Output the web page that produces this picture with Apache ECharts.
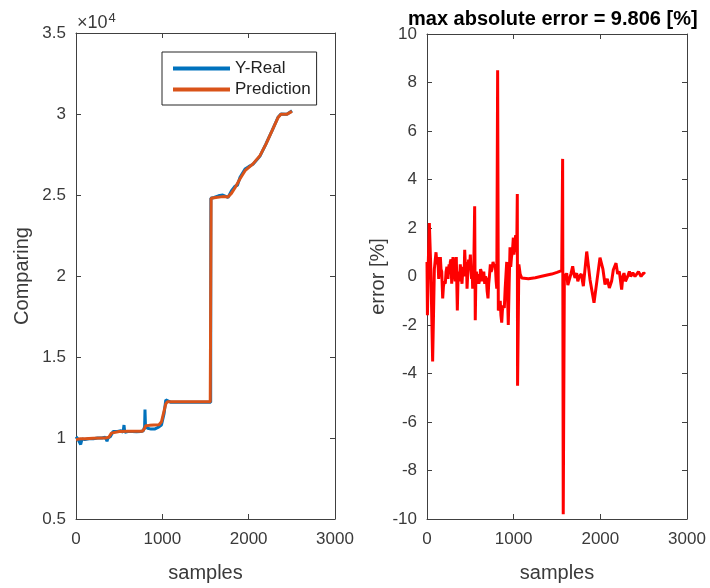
<!DOCTYPE html>
<html>
<head>
<meta charset="utf-8">
<script src="https://cdn.jsdelivr.net/npm/echarts@6/dist/echarts.min.js"></script>
<style>
html,body{margin:0;padding:0;background:#fff;}
#chart{width:710px;height:588px;}
</style>
</head>
<body>
<div id="chart"></div>
<script>
// ---- data ----
const realX = [0,20,40,54,70,100,150,200,250,300,340,359,370,400,430,480,520,545,556,565,600,650,700,750,780,795,799,805,830,870,910,950,990,1020,1040,1060,1100,1300,1560,1562,1600,1650,1700,1760,1800,1842,1870,1900,1958,2000,2050,2100,2131,2200,2270,2340,2374,2444,2502];
const realY = [10080,9950,9900,9600,9950,9900,9950,9950,10000,10000,10050,9800,10000,10100,10400,10400,10450,10350,10800,10350,10400,10400,10380,10400,10450,10700,11750,10700,10600,10550,10550,10650,10800,11500,12350,12250,12200,12200,12200,24800,24850,24950,25000,24850,25250,25550,25600,26100,26600,26750,26900,27200,27400,28150,28960,29800,30000,29980,30200];
const predX = [0,50,100,200,300,344,380,410,420,500,600,700,768,790,807,850,900,961,990,1019,1040,1058,1200,1400,1555,1565,1620,1700,1760,1800,1842,1900,1958,2050,2131,2200,2270,2340,2374,2444,2502];
const predY = [9900,9950,9950,9980,10000,10000,10050,10300,10380,10400,10420,10420,10420,10550,10750,10780,10800,10820,11000,11650,12100,12230,12230,12230,12230,24800,24850,24900,24880,25100,25450,26000,26500,26920,27430,28140,28960,29780,29980,29990,30160];
const errX = [0,5,15,27,45,65,85,104,115,125,135,145,154,162,170,181,190,200,211,220,230,242,250,255,262,269,277,285,292,300,308,316,325,331,338,350,358,365,375,384,394,404,412,420,428,435,442,450,456,462,471,480,490,500,508,515,521,527,533,540,550,557,563,570,579,588,598,610,618,627,636,645,655,666,675,685,694,704,712,720,731,740,750,762,775,788,798,805,815,823,835,845,853,862,870,880,892,902,910,920,930,938,948,958,966,975,985,996,1003,1010,1017,1023,1030,1035,1042,1045,1060,1075,1093,1170,1250,1323,1400,1439,1500,1554,1565,1572,1585,1600,1612,1625,1642,1660,1681,1695,1708,1727,1740,1758,1780,1804,1843,1881,1927,1960,1996,2030,2054,2080,2104,2130,2150,2181,2200,2219,2246,2260,2273,2290,2304,2320,2335,2350,2362,2375,2388,2400,2419,2440,2458,2470,2489,2500,2515];
const errY = [0.6,-1.6,0.6,2.2,0.2,-3.5,0.3,1.0,0.5,0.8,-0.1,0.4,0.8,0.3,0.2,-0.9,-0.4,-0.2,-0.3,0.2,0.4,-0.1,0.3,0.5,0.1,0.6,0.7,-0.3,0.4,0.8,0.8,0.1,-0.2,0.5,0.8,-1.4,-0.1,0.2,-0.2,0.5,0.1,-0.3,0.2,0.4,0.0,1.1,0.5,0.1,0.6,-0.5,0.2,0.7,0.3,0.9,0.2,-0.1,0.3,-0.5,0.1,0.4,2.9,-1.8,-0.3,0.2,-0.2,0.1,-0.3,-0.1,0.3,0.2,-0.2,0.0,0.2,-0.3,0.0,-0.1,-0.6,-0.9,-0.3,0.0,0.5,0.2,0.3,0.6,0.4,0.5,-0.2,-0.5,8.5,-1.4,-1.3,-1.0,-1.6,-1.9,-1.4,-1.2,-1.3,-0.5,0.0,0.6,-0.9,-2.0,-0.3,1.2,0.4,0.8,1.0,1.6,0.9,1.2,1.5,1.7,1.3,1.0,3.4,-4.5,0.5,0.1,-0.06,-0.09,-0.05,0.01,0.07,0.1,0.17,0.24,4.85,-9.806,0.1,0.0,0.14,-0.35,-0.27,0.1,0.42,0.1,-0.06,0.14,-0.2,0.01,0.1,-0.4,1.03,-0.13,-1.08,-0.2,0.78,0.3,-0.33,-0.1,-0.47,-0.2,0.28,0.55,0.1,0.21,-0.54,0.0,0.14,-0.2,-0.13,0.05,0.21,0.0,-0.06,0.15,0.21,0.0,-0.06,0.2,0.18,0.0,0.01,0.15,0.1];
const leftYTicks = [5000,35000,5000];   // min, max, step
const rightYTicks = [-10,10,2];
const xTicks = [0,3000,1000];
const titleText = 'max absolute error = 9.806 [%]';

const zip = (a,b) => a.map((v,i)=>[v,b[i]]);

const FONT = 'Liberation Sans, Arial, Helvetica, sans-serif';
const AX = '#404040';
const LBL = '#3a3a3a';

function xAx(grid, pos, labels){
  return {
    type:'value', gridIndex:grid, position:pos, min:xTicks[0], max:xTicks[1], interval:xTicks[2],
    axisLine:{show:true, onZero:false, lineStyle:{color:AX,width:1}},
    axisTick:{show:true, inside:true, length:5, lineStyle:{color:AX}},
    axisLabel:{show:labels, color:LBL, fontSize:17, fontFamily:FONT, margin:12, formatter: v => String(v)},
    splitLine:{show:false},
    name: labels ? 'samples' : '', nameLocation:'middle', nameGap:44,
    nameTextStyle:{color:LBL, fontSize:20, fontFamily:FONT}
  };
}
function yAx(grid, pos, labels, t, name, fmt, gap){
  return {
    type:'value', gridIndex:grid, position:pos, min:t[0], max:t[1], interval:t[2],
    axisLine:{show:true, onZero:false, lineStyle:{color:AX,width:1}},
    axisTick:{show:true, inside:true, length:5, lineStyle:{color:AX}},
    axisLabel:{show:labels, color:LBL, fontSize:17, fontFamily:FONT, margin:10, formatter:fmt},
    splitLine:{show:false},
    name: labels ? name : '', nameLocation:'middle', nameGap:gap, nameRotate:90,
    nameTextStyle:{color:LBL, fontSize:20, fontFamily:FONT}
  };
}

const chart = echarts.init(document.getElementById('chart'), null, {renderer:'canvas'});
chart.setOption({
  animation:false,
  backgroundColor:'#ffffff',
  textStyle:{fontFamily:FONT},
  title:{text:titleText, left:403, top:4, textStyle:{fontSize:20, fontWeight:'bold', color:'#000', fontFamily:FONT}},
  grid:[
    {left:76, top:33, width:259, height:490},
    {left:427, top:34, width:260, height:489}
  ],
  legend:{
    data:['Y-Real','Prediction'], orient:'vertical', left:162, top:52,
    icon:'rect', itemWidth:57, itemHeight:4, itemGap:4, itemTextGap:6,
    padding:[8,6,7,11], borderColor:'#262626', borderWidth:1, backgroundColor:'#fff',
    textStyle:{color:'#222', fontSize:17, fontFamily:FONT}
  },
  xAxis:[ xAx(0,'bottom',true), xAx(0,'top',false), xAx(1,'bottom',true), xAx(1,'top',false) ],
  yAxis:[
    yAx(0,'left',true,leftYTicks,'Comparing', v => String(v/10000), 44),
    yAx(0,'right',false,leftYTicks,'',null,0),
    yAx(1,'left',true,rightYTicks,'error [%]', v => String(v), 34),
    yAx(1,'right',false,rightYTicks,'',null,0)
  ],
  graphic:[{
    type:'text', left:77, top:12,
    style:{text:'{a|×10}{b|4}', rich:{a:{fontSize:18,fill:LBL,fontFamily:FONT}, b:{fontSize:13,fill:LBL,fontFamily:FONT,verticalAlign:'top',padding:[0,0,10,1]}}}
  }],
  series:[
    {name:'Y-Real', type:'line', xAxisIndex:0, yAxisIndex:0, data:zip(realX,realY), showSymbol:false, symbol:'none',
     color:'#0072BD', lineStyle:{color:'#0072BD', width:3}},
    {name:'Prediction', type:'line', xAxisIndex:0, yAxisIndex:0, data:zip(predX,predY), showSymbol:false, symbol:'none',
     color:'#D95319', lineStyle:{color:'#D95319', width:3}},
    {name:'error', type:'line', xAxisIndex:2, yAxisIndex:2, data:zip(errX,errY), showSymbol:false, symbol:'none',
     color:'#FF0000', lineStyle:{color:'#FF0000', width:3}}
  ]
});
</script>
</body>
</html>
